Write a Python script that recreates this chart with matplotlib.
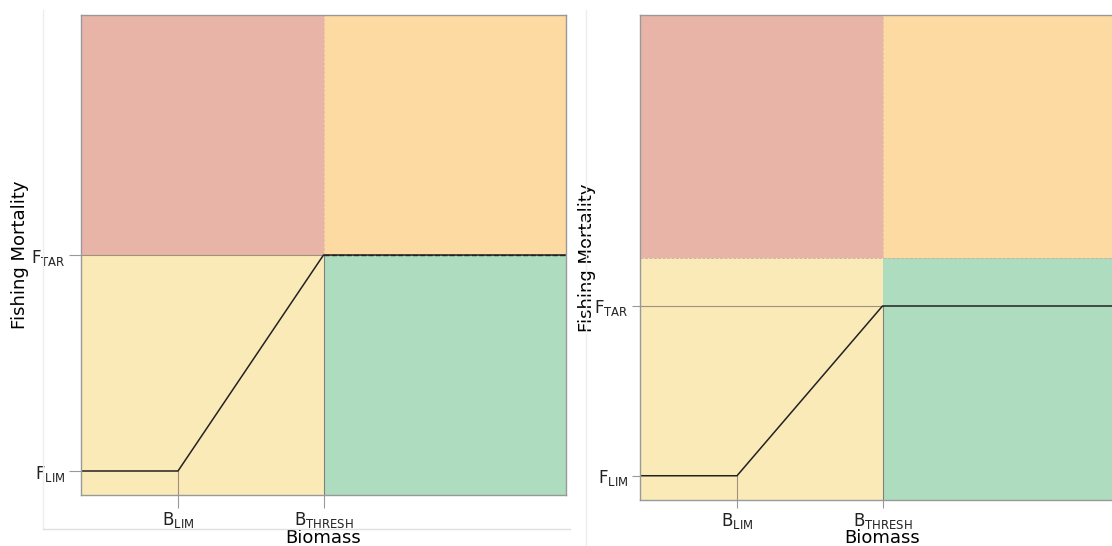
import matplotlib.pyplot as plt
from matplotlib.lines import Line2D

plt.rcParams['mathtext.default'] = 'regular'

# reference points (fraction of axis range)
b_lim = 0.2
b_thresh = 0.5
f_lim = 0.05
f_tar_left = 0.5
f_tar_right = 0.4
zone_split = 0.5  # horizontal boundary of the coloured zones

zone_colors = {
    'red': '#e8b4a8',
    'orange': '#fddaa1',
    'yellow': '#faeab7',
    'green': '#addcbe',
}

x_ticks = [b_lim, b_thresh]
x_ticklabels = [r'B$_{LIM}$', r'B$_{THRESH}$']


def draw_panel(ax, f_tar, tick_len):
    ax.set_xlim(0, 1)
    ax.set_ylim(0, 1)
    # zones
    ax.fill_between([0, b_thresh], zone_split, 1, color=zone_colors['red'], lw=0)
    ax.fill_between([b_thresh, 1], zone_split, 1, color=zone_colors['orange'], lw=0)
    ax.fill_between([0, b_thresh], 0, zone_split, color=zone_colors['yellow'], lw=0)
    ax.fill_between([b_thresh, 1], 0, zone_split, color=zone_colors['green'], lw=0)
    ax.axhline(zone_split, color='#c8b0a0', lw=0.6, ls='--')
    ax.axvline(b_thresh, ymin=zone_split, color='#e0c0a8', lw=0.6, ls='--')

    # guide lines
    ax.plot([0, b_thresh], [f_tar, f_tar], color='#a09080', lw=0.8)
    ax.plot([b_lim, b_lim], [0, f_lim], color='#a09080', lw=0.8)
    ax.plot([b_thresh, b_thresh], [0, f_tar], color='#808080', lw=0.8)

    # harvest control rule
    ax.plot([0, b_lim, b_thresh, 1], [f_lim, f_lim, f_tar, f_tar],
            color='#222222', lw=1.1)

    ax.set_xticks(x_ticks)
    ax.set_xticklabels(x_ticklabels, fontsize=12)
    ax.set_yticks([f_lim, f_tar])
    ax.set_yticklabels([r'F$_{LIM}$', r'F$_{TAR}$'], fontsize=12)
    ax.tick_params(length=tick_len, width=0.8, color='#999999',
                   labelcolor='#222222', pad=2)
    ax.set_xlabel('Biomass', fontsize=13)
    ax.set_ylabel('Fishing Mortality', fontsize=13)
    for s in ax.spines.values():
        s.set_color('#999999')
        s.set_linewidth(1.0)


W, H = 1112, 546
fig = plt.figure(figsize=(W / 100, H / 100), dpi=100)

ax1 = fig.add_axes([81 / W, (H - 495) / H, 485 / W, 480 / H])
draw_panel(ax1, f_tar_left, 9)
ax1.plot([b_thresh, 1], [f_tar_left, f_tar_left], color='#222222', lw=1.0, ls='--')
ax1.xaxis.set_label_coords(0.5, -0.071)
ax1.yaxis.set_label_coords(-0.107, 0.5)

ax2 = fig.add_axes([640 / W, (H - 500) / H, 485 / W, 485 / H])
draw_panel(ax2, f_tar_right, 6)
ax2.xaxis.set_label_coords(0.5, -0.060)
ax2.yaxis.set_label_coords(-0.09, 0.5)

# faint panel borders
fig.add_artist(Line2D([43 / W, 43 / W], [(H - 10) / H, (H - 529) / H],
                      color='#eeeeee', lw=1))
fig.add_artist(Line2D([43 / W, 570 / W], [(H - 529) / H, (H - 529) / H],
                      color='#e0e0e0', lw=1))
fig.add_artist(Line2D([586 / W, 586 / W], [(H - 10) / H, (H - 545) / H],
                      color='#eeeeee', lw=1))

fig.savefig('out.png', dpi=100)
